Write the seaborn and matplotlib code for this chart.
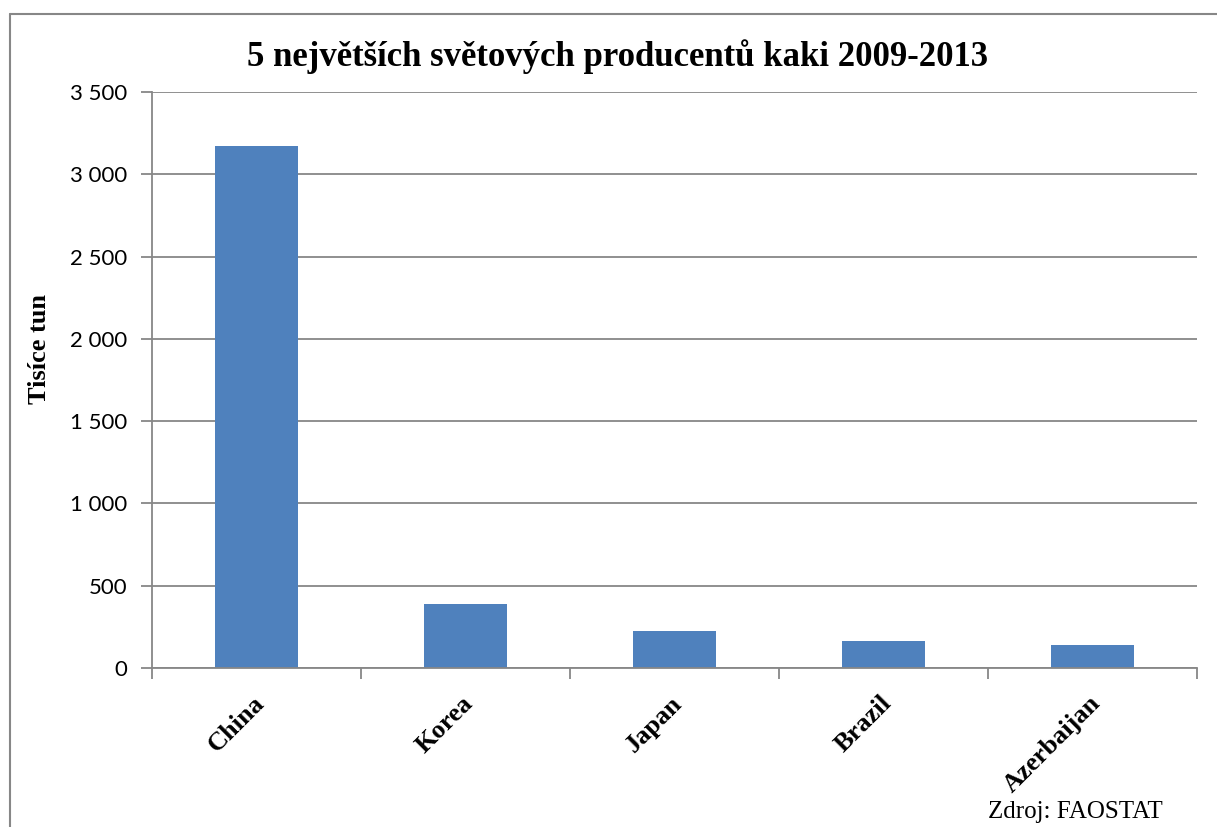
import matplotlib
matplotlib.use("Agg")
import matplotlib.pyplot as plt
from matplotlib.lines import Line2D
import seaborn as sns
import pandas as pd

# Production of persimmons, thousand tonnes (average 2009-2013)
countries = ["China", "Korea", "Japan", "Brazil", "Azerbaijan"]
production = [3172, 389, 225, 164, 140]
y_ticks = [0, 500, 1000, 1500, 2000, 2500, 3000, 3500]
y_tick_labels = ["0", "500", "1 000", "1 500", "2 000", "2 500", "3 000", "3 500"]

title = "5 největších světových producentů kaki 2009-2013"
y_label = "Tisíce tun"
source = "Zdroj: FAOSTAT"

df = pd.DataFrame({"country": countries, "production": production})

sns.set_style("white")
plt.rcParams["text.color"] = "black"
plt.rcParams["ytick.labelcolor"] = "black"
serif = ["Liberation Serif", "DejaVu Serif"]
sans = ["Lato", "DejaVu Sans"]
grid_col = "#878787"
bar_col = "#4F81BD"

fig = plt.figure(figsize=(12.17, 8.27), dpi=100)
ax = fig.add_axes([152 / 1217, 1 - 668 / 827, 1045 / 1217, 576 / 827])

sns.barplot(data=df, x="country", y="production", color=bar_col,
            saturation=1, width=0.4, ax=ax, edgecolor=bar_col, linewidth=0)

ax.set_ylim(0, 3500)
ax.set_xlim(-0.5, len(countries) - 0.5)
ax.set_yticks(y_ticks)
ax.set_yticklabels(y_tick_labels, fontfamily=sans, fontsize=16, color="black")
ax.yaxis.grid(True, color=grid_col, linewidth=1.3)
ax.set_axisbelow(True)

# category ticks sit on the boundaries between bars
ax.set_xticks([i - 0.5 for i in range(len(countries) + 1)])
ax.set_xticklabels([])
ax.tick_params(axis="x", direction="out", length=8, width=1.3, color=grid_col, bottom=True)
ax.tick_params(axis="y", direction="out", length=8, width=1.3, color=grid_col, left=True, pad=10)
for i, name in enumerate(countries):
    ax.annotate(name, xy=(i, 0), xycoords=("data", "axes fraction"),
                xytext=(-3, -17), textcoords="offset points",
                rotation=45, ha="right", va="top", rotation_mode="anchor",
                fontfamily=serif, fontweight="bold", fontsize=19, color="black")

for side in ("top", "right"):
    ax.spines[side].set_visible(False)
for side in ("left", "bottom"):
    ax.spines[side].set_color(grid_col)
    ax.spines[side].set_linewidth(1.3)

ax.set_xlabel("")
ax.set_ylabel("")
fig.text(40 / 1217, 1 - 349 / 827, y_label, rotation=90, ha="center", va="center",
         fontfamily=serif, fontweight="bold", fontsize=19, color="black")

fig.text(618 / 1217, 1 - 57 / 827, title, ha="center", va="center",
         fontfamily=serif, fontweight="bold", fontsize=25, color="black")
fig.text(1075 / 1217, 1 - 812 / 827, source, ha="center", va="center",
         fontfamily=serif, fontsize=18, color="black")

# chart-area frame
frame_x = 10 / 1217
frame_y = 1 - 14 / 827
fig.add_artist(Line2D([frame_x, 1.0], [frame_y, frame_y], color=grid_col, linewidth=1.5))
fig.add_artist(Line2D([frame_x, frame_x], [0.0, frame_y], color=grid_col, linewidth=1.5))

fig.savefig("out.png", dpi=100)
